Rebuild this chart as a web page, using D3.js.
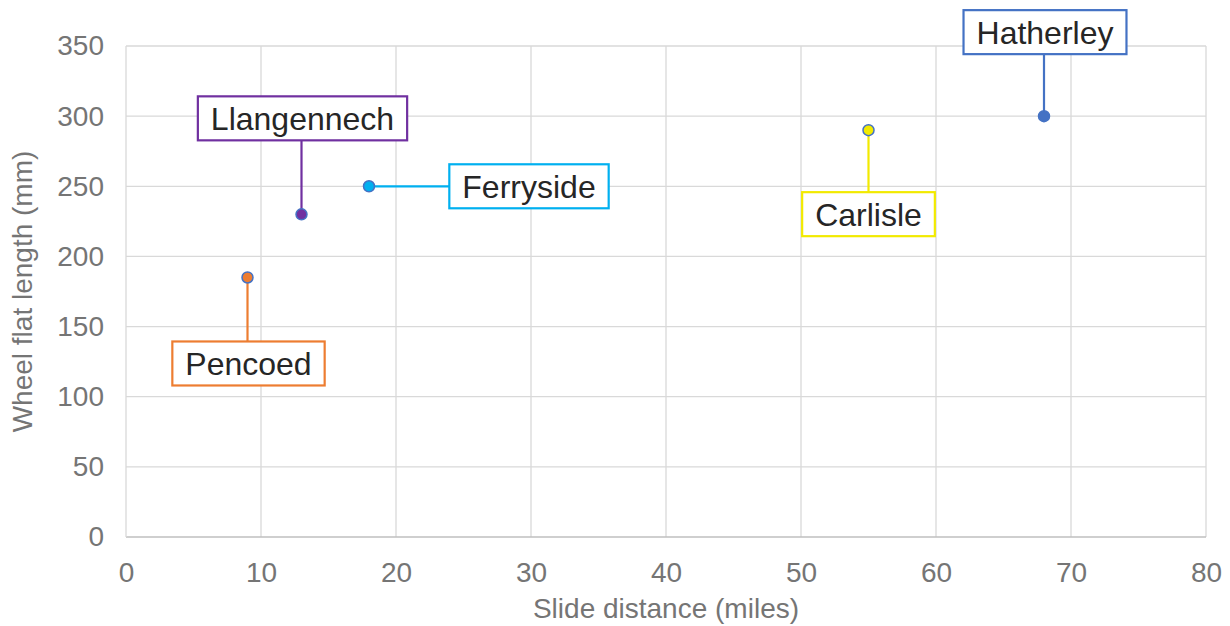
<!DOCTYPE html>
<html><head><meta charset="utf-8">
<script src="https://cdn.jsdelivr.net/npm/d3@7"></script>
<style>body{margin:0;background:#fff}svg{display:block}text{font-family:"Liberation Sans",Arial,sans-serif}</style>
</head><body><svg id="c" width="1230" height="626"></svg>
<script>
const names = ["Pencoed","Llangennech","Ferryside","Carlisle","Hatherley"];
const slideMiles = [9,13,18,55,68];
const flatMm = [185,230,250,290,300];
const colors = ["#ED7D31","#7030A0","#00B0F0","#F2EA00","#4472C4"];
const xTicks = [0,10,20,30,40,50,60,70,80];
const yTicks = [0,50,100,150,200,250,300,350];
// label callout offsets (pixels from point to label centre)
const labelOffsets = [[1,86],[1,-96],[160,0],[0,84],[1,-84]];

const svg = d3.select("#c");
const m = {l:126, r:1206, t:46, b:537};
const x = d3.scaleLinear().domain([0,80]).range([m.l,m.r]);
const y = d3.scaleLinear().domain([0,350]).range([m.b,m.t]);

svg.append("g").selectAll("line").data(xTicks.slice(1)).join("line")
  .attr("x1",d=>x(d)).attr("x2",d=>x(d)).attr("y1",m.t).attr("y2",m.b)
  .attr("stroke","#d9d9d9").attr("stroke-width",1.3);
svg.append("g").selectAll("line").data(yTicks.slice(1)).join("line")
  .attr("x1",m.l).attr("x2",m.r).attr("y1",d=>y(d)).attr("y2",d=>y(d))
  .attr("stroke","#d9d9d9").attr("stroke-width",1.3);
svg.append("line").attr("x1",m.l).attr("x2",m.r).attr("y1",m.b).attr("y2",m.b).attr("stroke","#bfbfbf").attr("stroke-width",1.3);
svg.append("line").attr("x1",m.l).attr("x2",m.l).attr("y1",m.t).attr("y2",m.b).attr("stroke","#d9d9d9").attr("stroke-width",1.3);

const xa = svg.append("g").attr("transform",`translate(0,${m.b})`)
  .call(d3.axisBottom(x).tickValues(xTicks).tickSize(0).tickPadding(25));
const ya = svg.append("g").attr("transform",`translate(${m.l},0)`)
  .call(d3.axisLeft(y).tickValues(yTicks).tickSize(0).tickPadding(22));
[xa,ya].forEach(a=>{a.select(".domain").remove();
  a.selectAll("text").attr("font-size",28).attr("fill","#757575").attr("font-family","Liberation Sans, Arial, sans-serif");});
xa.selectAll("text").attr("dy","0.72em");

svg.append("text").attr("x",(m.l+m.r)/2).attr("y",618).attr("text-anchor","middle")
  .attr("font-size",28).attr("fill","#757575").text("Slide distance (miles)");
svg.append("text").attr("transform",`translate(32,${(m.t+m.b)/2}) rotate(-90)`).attr("text-anchor","middle")
  .attr("font-size",28).attr("fill","#757575").text("Wheel flat length (mm)");

const data = names.map((n,i)=>({n,x:slideMiles[i],y:flatMm[i],c:colors[i],o:labelOffsets[i]}));
const g = svg.append("g");
data.forEach(d=>{
  const px=x(d.x), py=y(d.y), cx=px+d.o[0], cy=py+d.o[1];
  const t = g.append("text").attr("x",cx).attr("y",cy).attr("text-anchor","middle").attr("dy","0.36em")
    .attr("font-size",32).attr("fill","#262626").text(d.n);
  const w = t.node().getComputedTextLength()+26, h=44;
  let ex=cx, ey=cy;
  if (Math.abs(d.o[0])>Math.abs(d.o[1])) { ex = cx - Math.sign(d.o[0])*w/2; ey=py; }
  else { ey = cy - Math.sign(d.o[1])*h/2; ex=px; }
  g.insert("line","text").attr("x1",px).attr("y1",py).attr("x2",ex).attr("y2",ey).attr("stroke",d.c).attr("stroke-width",2.2);
  g.insert("rect","text").attr("x",cx-w/2).attr("y",cy-h/2).attr("width",w).attr("height",h)
    .attr("fill","#fff").attr("stroke",d.c).attr("stroke-width",2.2);
  g.append("circle").attr("cx",px).attr("cy",py).attr("r",5.5).attr("fill",d.c).attr("stroke","#4472C4").attr("stroke-width",1.5);
});
</script></body></html>
